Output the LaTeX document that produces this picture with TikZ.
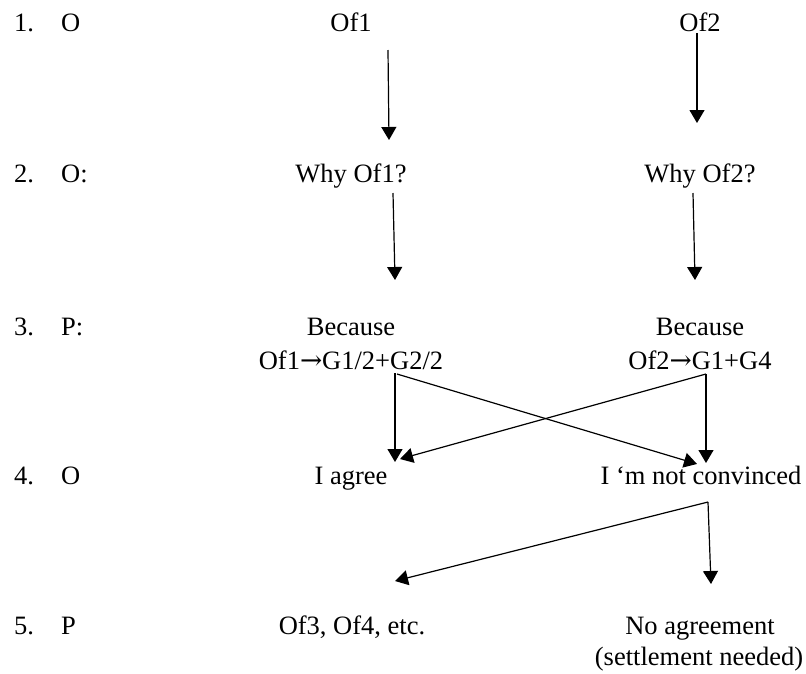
\documentclass[tikz,border=0pt]{standalone}
\usepackage{fontspec}
\setmainfont{Liberation Serif}
\newfontfamily\arrfont{DejaVu Serif}
\newcommand{\rarr}{{\arrfont →}}
\usetikzlibrary{arrows.meta}
\begin{document}
\begin{tikzpicture}[x=1pt,y=-1pt,
  txt/.style={anchor=base,inner sep=0pt,font=\fontsize{26.5}{34}\selectfont},
  lbl/.style={anchor=base west,inner sep=0pt,font=\fontsize{26.5}{34}\selectfont},
  conn/.style={line width=1.2pt,-{Triangle[length=13pt,width=15pt]}}]
\useasboundingbox[fill=white] (0,0) rectangle (806,673);
% row labels
\node[lbl] (n1) at (14,31) {1.};
\node[lbl] (l1) at (61,31) {O};
\node[lbl] (n2) at (14,182) {2.};
\node[lbl] (l2) at (61,182) {O:};
\node[lbl] (n3) at (14,335) {3.};
\node[lbl] (l3) at (61,335) {P:};
\node[lbl] (n4) at (14,484) {4.};
\node[lbl] (l4) at (61,484) {O};
\node[lbl] (n5) at (14,634) {5.};
\node[lbl] (l5) at (61,634) {P};
% column texts
\node[txt] (of1) at (351,31) {Of1};
\node[txt] (of2) at (700,31) {Of2};
\node[txt] (why1) at (351,182) {Why Of1?};
\node[txt] (why2) at (700,182) {Why Of2?};
\node[txt] (bec1) at (351,335) {Because};
\node[txt] (rule1) at (351,369) {Of1\rarr G1/2+G2/2};
\node[txt] (bec2) at (700,335) {Because};
\node[txt] (rule2) at (700,369) {Of2\rarr G1+G4};
\node[txt] (agree) at (351,484) {I agree};
\node[txt] (notconv) at (701,484) {I ‘m not convinced};
\node[txt] (of34) at (352,634) {Of3, Of4, etc.};
\node[txt] (noagr) at (700,634) {No agreement};
\node[txt] (settle) at (699,665) {(settlement needed)};
% connector end points
\coordinate (a1s) at (388,50);  \coordinate (a1e) at (389,140);
\coordinate (a2s) at (697,33);  \coordinate (a2e) at (697,123);
\coordinate (b1s) at (393,193); \coordinate (b1e) at (395,280);
\coordinate (b2s) at (693,193); \coordinate (b2e) at (695,280);
\coordinate (c1s) at (395,373); \coordinate (c1e) at (395,462);
\coordinate (c1d) at (397,374); \coordinate (c1f) at (697,464);
\coordinate (c2s) at (706,374); \coordinate (c2e) at (706,463);
\coordinate (c2f) at (400,459);
\coordinate (d1s) at (708,502); \coordinate (d1e) at (711,584);
\coordinate (d1f) at (395,581);
% connectors
\draw[conn] (a1s) -- (a1e);
\draw[conn] (a2s) -- (a2e);
\draw[conn] (b1s) -- (b1e);
\draw[conn] (b2s) -- (b2e);
\draw[conn] (c1s) -- (c1e);
\draw[conn] (c1d) -- (c1f);
\draw[conn] (c2s) -- (c2e);
\draw[conn] (c2s) -- (c2f);
\draw[conn] (d1s) -- (d1e);
\draw[conn] (d1s) -- (d1f);
\end{tikzpicture}
\end{document}
